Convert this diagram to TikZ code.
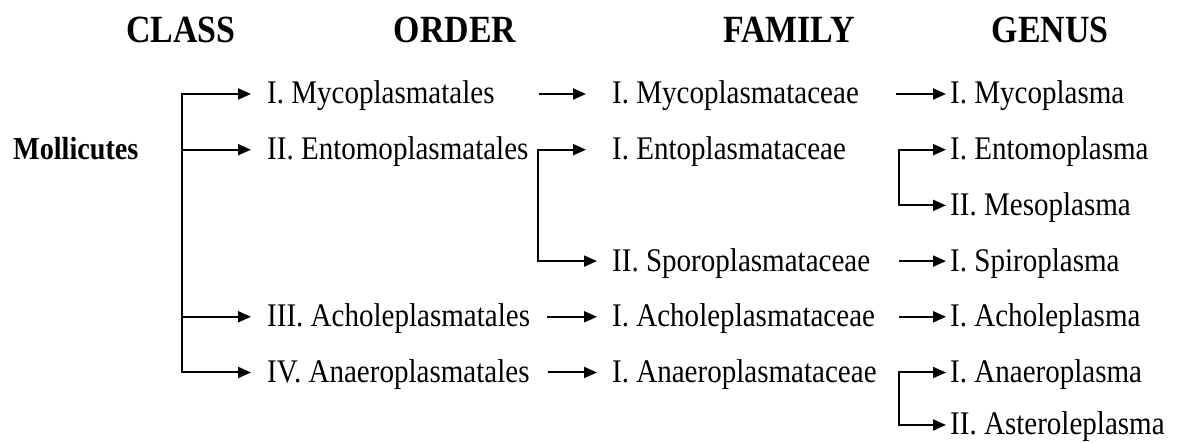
\documentclass[tikz,border=0pt]{standalone}
\usepackage{fontspec}
\setmainfont{Liberation Serif}[FakeStretch=0.88]
\usetikzlibrary{arrows.meta}
\begin{document}
\begin{tikzpicture}[x=1pt,y=1pt,
  txt/.style={inner sep=0pt, anchor=west, text height=24pt, text depth=4pt, font=\fontsize{33}{38}\selectfont},
  hdr/.style={inner sep=0pt, anchor=base, font=\bfseries\fontsize{38.5}{42}\selectfont},
  arr/.style={line width=2pt, line cap=rect, -{Triangle[length=13pt,width=11pt]}}]
\useasboundingbox (0,0) rectangle (1184,443);
% headers
\node[hdr] (hc) at (181,400) {CLASS};
\node[hdr] (ho) at (455,400) {ORDER};
\node[hdr] (hf) at (789,400) {FAMILY};
\node[hdr] (hg) at (1050,400) {GENUS};
% class
\node[txt, font=\bfseries\fontsize{32}{36}\selectfont] (cls) at (13,293.3) {Mollicutes};
% orders
\node[txt] (o1) at (267,349) {I. Mycoplasmatales};
\node[txt] (o2) at (267,293.3) {II. Entomoplasmatales};
\node[txt] (o3) at (267,126.2) {III. Acholeplasmatales};
\node[txt] (o4) at (267,70.5) {IV. Anaeroplasmatales};
% families
\node[txt] (f1) at (612,349) {I. Mycoplasmataceae};
\node[txt] (f2) at (612,293.3) {I. Entoplasmataceae};
\node[txt] (f3) at (612,181.9) {II. Sporoplasmataceae};
\node[txt] (f4) at (612,126.2) {I. Acholeplasmataceae};
\node[txt] (f5) at (612,70.5) {I. Anaeroplasmataceae};
% genera
\node[txt] (g1) at (950,349) {I. Mycoplasma};
\node[txt] (g2) at (950,293.3) {I. Entomoplasma};
\node[txt] (g3) at (950,237.6) {II. Mesoplasma};
\node[txt] (g4) at (950,181.9) {I. Spiroplasma};
\node[txt] (g5) at (950,126.2) {I. Acholeplasma};
\node[txt] (g6) at (950,70.5) {I. Anaeroplasma};
\node[txt] (g7) at (950,18) {II. Asteroleplasma};
% class -> order bracket
\coordinate (cb1) at (182,349);
\coordinate (cb2) at (182,293.3);
\coordinate (cb5) at (182,126.2);
\coordinate (cb6) at (182,70.5);
\draw[arr, shorten >=16pt] (cb6) -- (cb1) -- (o1.west);
\draw[arr, shorten >=16pt] (cb2) -- (o2.west);
\draw[arr, shorten >=16pt] (cb5) -- (o3.west);
\draw[arr, shorten >=16pt] (cb6) -- (o4.west);
% order -> family
\coordinate (s1) at (540,349);
\coordinate (ob2) at (538,293.3);
\coordinate (ob4) at (538,181.9);
\coordinate (s5) at (548,126.2);
\coordinate (s6) at (549,70.5);
\draw[arr, shorten >=26pt] (s1) -- (f1.west);
\draw[arr, shorten >=26pt] (ob2) -- (f2.west);
\draw[arr, shorten >=15pt] (ob2) -- (ob4) -- (f3.west);
\draw[arr, shorten >=15pt] (s5) -- (f4.west);
\draw[arr, shorten >=15pt] (s6) -- (f5.west);
% family -> genus
\coordinate (t1) at (897,349);
\coordinate (fb2) at (899,293.3);
\coordinate (fb3) at (899,237.6);
\coordinate (t4) at (900,181.9);
\coordinate (t5) at (900,126.2);
\coordinate (fb6) at (899,70.5);
\coordinate (fb7) at (899,18);
\draw[arr, shorten >=4pt] (t1) -- (g1.west);
\draw[arr, shorten >=4pt] (fb3) -- (fb2) -- (g2.west);
\draw[arr, shorten >=4pt] (fb3) -- (g3.west);
\draw[arr, shorten >=4pt] (t4) -- (g4.west);
\draw[arr, shorten >=4pt] (t5) -- (g5.west);
\draw[arr, shorten >=4pt] (fb7) -- (fb6) -- (g6.west);
\draw[arr, shorten >=4pt] (fb7) -- (g7.west);
\end{tikzpicture}
\end{document}
